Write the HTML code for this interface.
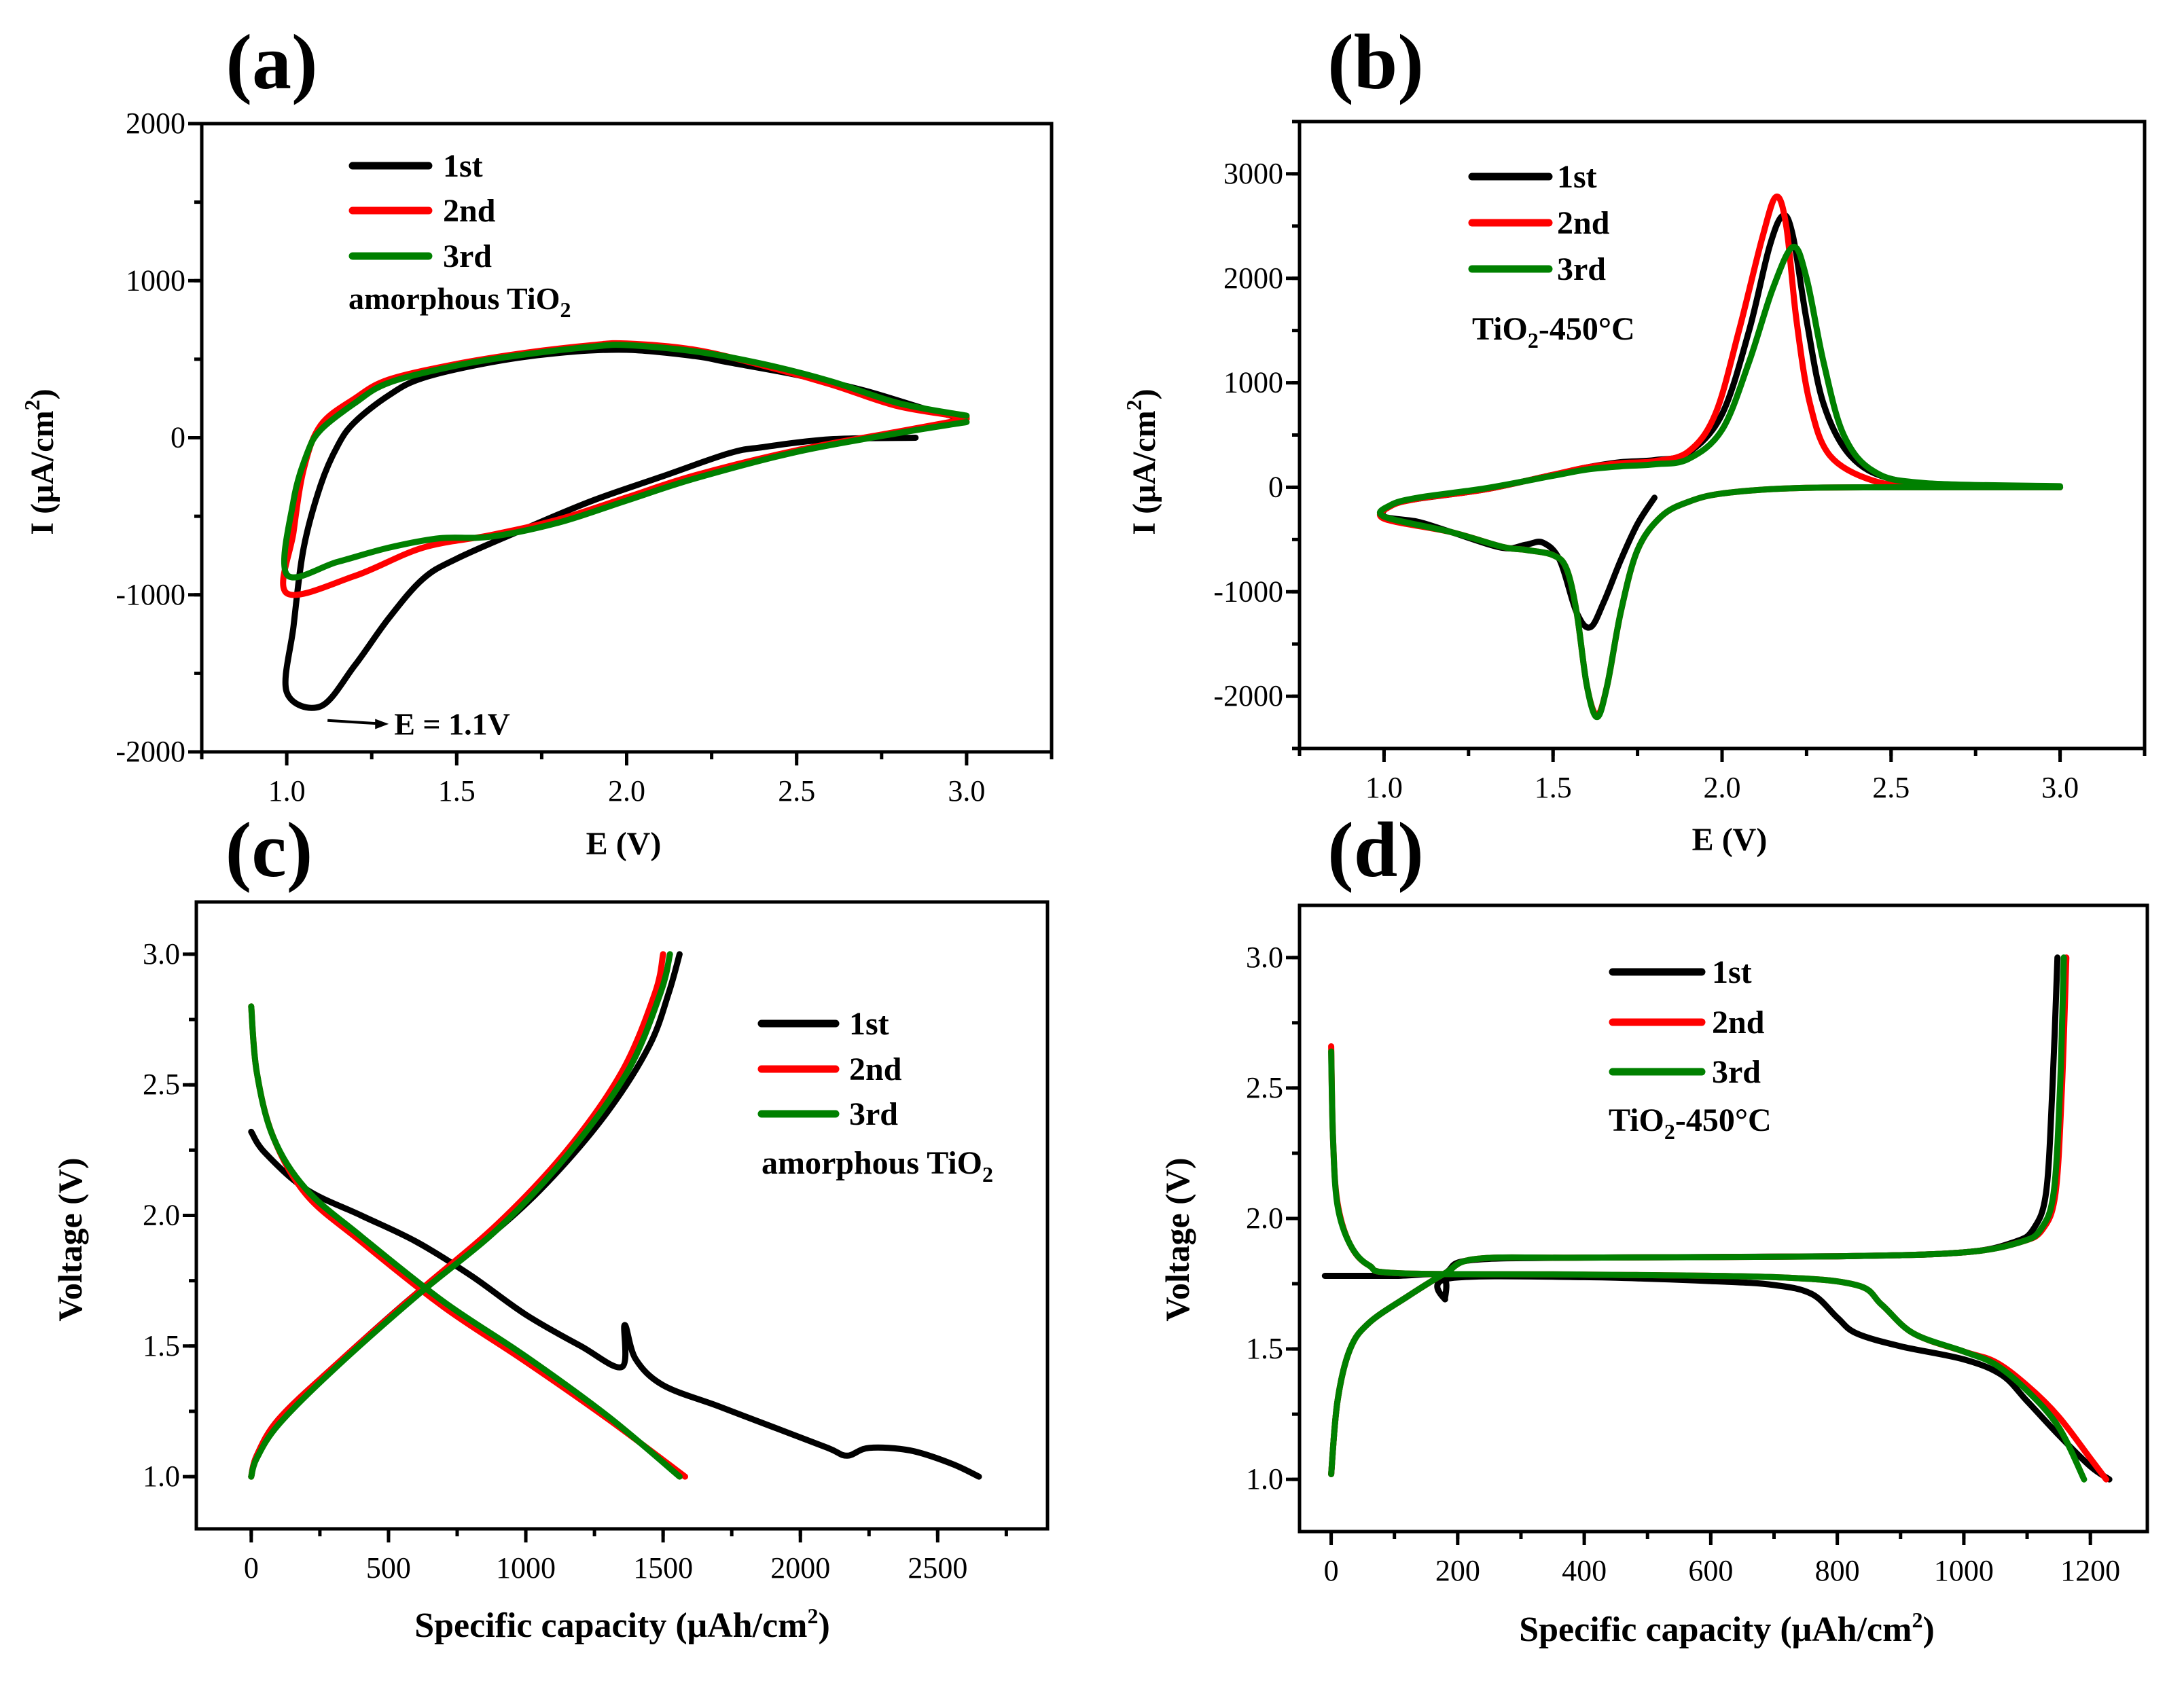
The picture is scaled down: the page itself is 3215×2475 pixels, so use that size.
<!DOCTYPE html>
<html><head><meta charset="utf-8"><style>
html,body{margin:0;padding:0;background:#fff;}
svg{display:block;font-family:"Liberation Serif",serif;}
</style></head><body>
<svg id="fig" width="3215" height="2475" viewBox="0 0 3215 2475" xmlns="http://www.w3.org/2000/svg"></svg>
<script>
// ---- Panel (a) data: CV amorphous TiO2 [E, I]
const aCycleNames=["1st","2nd","3rd"];
const a1=[[2.85,0],[2.6,-10],[2.4,-60],[2.3,-100],[2.1,-250],[1.9,-400],[1.7,-580],[1.5,-770],[1.4,-900],[1.3,-1150],[1.2,-1450],[1.1,-1710],[1.0,-1620],[1.02,-1200],[1.05,-700],[1.1,-300],[1.15,-50],[1.2,100],[1.3,270],[1.4,380],[1.6,480],[1.8,540],[2.0,560],[2.2,520],[2.3,480],[2.5,400],[2.7,300],[2.9,170],[3.0,120]];
const a2=[[3.0,120],[2.8,40],[2.5,-80],[2.2,-240],[2.0,-380],[1.8,-520],[1.6,-620],[1.4,-700],[1.2,-880],[1.0,-990],[1.02,-600],[1.05,-200],[1.1,80],[1.2,250],[1.3,370],[1.5,470],[1.7,540],[1.9,590],[2.0,600],[2.2,560],[2.4,460],[2.6,340],[2.8,200],[3.0,130]];
const a3=[[3.0,100],[2.8,30],[2.5,-90],[2.2,-260],[2.0,-400],[1.8,-540],[1.6,-630],[1.45,-640],[1.3,-700],[1.15,-790],[1.0,-870],[1.02,-400],[1.06,-100],[1.1,50],[1.2,220],[1.3,350],[1.5,460],[1.7,530],[1.9,580],[2.0,590],[2.2,550],[2.4,470],[2.6,360],[2.8,220],[3.0,140]];
const aXTicks=[1.0,1.5,2.0,2.5,3.0];
const aYTicks=[-2000,-1000,0,1000,2000];
// ---- Panel (b) data: CV TiO2-450
const b1=[[1.8,-100],[1.75,-350],[1.7,-700],[1.65,-1100],[1.61,-1340],[1.57,-1200],[1.52,-700],[1.47,-530],[1.42,-550],[1.35,-580],[1.2,-430],[1.1,-330],[1.0,-280],[1.02,-170],[1.1,-110],[1.3,-20],[1.5,120],[1.6,190],[1.7,240],[1.8,260],[1.9,330],[2.0,700],[2.08,1500],[2.14,2300],[2.18,2600],[2.21,2400],[2.25,1600],[2.3,800],[2.38,300],[2.5,80],[2.7,20],[3.0,0]];
const b2=[[3.0,0],[2.5,0],[2.2,-10],[2.0,-60],[1.9,-140],[1.82,-280],[1.75,-600],[1.7,-1200],[1.66,-1900],[1.63,-2180],[1.6,-1900],[1.57,-1200],[1.54,-780],[1.5,-650],[1.42,-600],[1.35,-570],[1.2,-430],[1.0,-300],[1.02,-180],[1.1,-110],[1.3,-20],[1.5,120],[1.6,190],[1.7,230],[1.8,250],[1.9,340],[1.98,700],[2.05,1500],[2.12,2400],[2.16,2780],[2.19,2500],[2.22,1600],[2.26,800],[2.32,300],[2.45,60],[2.6,20],[3.0,0]];
const b3=[[3.0,0],[2.5,0],[2.2,-10],[2.0,-60],[1.9,-140],[1.82,-280],[1.75,-600],[1.7,-1200],[1.66,-1900],[1.63,-2200],[1.6,-1900],[1.57,-1200],[1.54,-780],[1.5,-650],[1.42,-600],[1.35,-570],[1.2,-430],[1.0,-280],[1.02,-170],[1.1,-100],[1.3,-10],[1.5,110],[1.6,170],[1.7,200],[1.8,220],[1.9,270],[2.0,550],[2.08,1200],[2.15,1900],[2.21,2300],[2.25,2000],[2.3,1200],[2.36,500],[2.45,150],[2.6,40],[3.0,10]];
const bXTicks=[1.0,1.5,2.0,2.5,3.0];
const bYTicks=[-2000,-1000,0,1000,2000,3000];
// ---- Panel (c) data: amorphous charge/discharge [capacity, V]
const c1d=[[0,2.32],[50,2.24],[200,2.1],[400,2.0],[600,1.9],[800,1.77],[1000,1.62],[1200,1.5],[1350,1.42],[1360,1.58],[1400,1.45],[1500,1.35],[1700,1.27],[1900,1.19],[2100,1.11],[2170,1.08],[2250,1.11],[2400,1.1],[2550,1.05],[2650,1.0]];
const c1c=[[0,1.0],[20,1.08],[100,1.22],[300,1.42],[600,1.7],[900,1.95],[1100,2.15],[1300,2.4],[1450,2.65],[1520,2.85],[1560,3.0]];
const c2d=[[0,2.8],[20,2.55],[80,2.3],[200,2.08],[400,1.9],[700,1.65],[1000,1.44],[1300,1.22],[1580,1.0]];
const c2c=[[0,1.0],[20,1.08],[100,1.22],[300,1.42],[600,1.7],[900,1.97],[1150,2.25],[1350,2.55],[1470,2.85],[1500,3.0]];
const c3d=[[0,2.8],[20,2.55],[80,2.3],[200,2.1],[400,1.92],[700,1.67],[1000,1.46],[1300,1.23],[1560,1.0]];
const c3c=[[0,1.0],[20,1.07],[100,1.2],[300,1.41],[600,1.69],[900,1.95],[1150,2.23],[1370,2.55],[1490,2.85],[1525,3.0]];
const cXTicks=[0,500,1000,1500,2000,2500];
const cYTicks=[1.0,1.5,2.0,2.5,3.0];
// ---- Panel (d) data: TiO2-450 charge/discharge
const d1d=[[-10,1.78],[100,1.78],[175,1.78],[180,1.69],[185,1.77],[400,1.775],[600,1.76],[700,1.745],[760,1.71],[800,1.62],[830,1.56],[900,1.51],[1000,1.46],[1060,1.4],[1100,1.3],[1150,1.17],[1200,1.05],[1230,1.0]];
const d1c=[[0,1.02],[10,1.3],[30,1.5],[60,1.6],[120,1.7],[180,1.79],[220,1.84],[400,1.85],[800,1.855],[1000,1.87],[1080,1.91],[1110,1.96],[1130,2.1],[1140,2.5],[1148,3.0]];
const d2d=[[0,2.66],[3,2.3],[10,2.06],[30,1.9],[60,1.82],[110,1.79],[400,1.785],[700,1.775],[830,1.745],[870,1.67],[920,1.56],[1000,1.49],[1050,1.45],[1100,1.36],[1150,1.24],[1200,1.08],[1225,1.0]];
const d2c=[[0,1.02],[10,1.3],[30,1.5],[60,1.6],[120,1.7],[180,1.79],[230,1.845],[400,1.85],[800,1.855],[1000,1.87],[1090,1.91],[1125,1.96],[1145,2.1],[1155,2.5],[1162,3.0]];
const d3d=[[0,2.64],[3,2.3],[10,2.05],[30,1.9],[60,1.82],[110,1.79],[400,1.785],[700,1.775],[830,1.745],[870,1.67],[920,1.56],[1000,1.49],[1050,1.44],[1100,1.34],[1150,1.2],[1190,1.0]];
const d3c=[[0,1.02],[10,1.3],[30,1.5],[60,1.6],[120,1.7],[180,1.79],[230,1.845],[400,1.85],[800,1.855],[1000,1.87],[1090,1.91],[1122,1.96],[1142,2.1],[1152,2.5],[1158,3.0]];
const dXTicks=[0,200,400,600,800,1000,1200];
const dYTicks=[1.0,1.5,2.0,2.5,3.0];

const NS="http://www.w3.org/2000/svg";
const svg=document.getElementById('fig');
function mk(tag,attrs,parent){const e=document.createElementNS(NS,tag);for(const k in attrs)e.setAttribute(k,attrs[k]);(parent||svg).appendChild(e);return e;}
const COL={"1st":"#000","2nd":"#ff0000","3rd":"#008000"};
function smooth(pts){let d="M"+pts[0][0].toFixed(1)+","+pts[0][1].toFixed(1);
 for(let i=0;i<pts.length-1;i++){const p0=pts[Math.max(0,i-1)],p1=pts[i],p2=pts[i+1],p3=pts[Math.min(pts.length-1,i+2)];
  const c1=[p1[0]+(p2[0]-p0[0])/6,p1[1]+(p2[1]-p0[1])/6],c2=[p2[0]-(p3[0]-p1[0])/6,p2[1]-(p3[1]-p1[1])/6];
  d+="C"+c1[0].toFixed(1)+","+c1[1].toFixed(1)+" "+c2[0].toFixed(1)+","+c2[1].toFixed(1)+" "+p2[0].toFixed(1)+","+p2[1].toFixed(1);}
 return d;}
function panel(id,box,xr,yr,xt,yt,xminor,yminor,fmtX,fmtY){
 const g=mk('g',{});
 
 
 const sx=v=>box.x0+(v-xr[0])/(xr[1]-xr[0])*(box.x1-box.x0);
 const sy=v=>box.y1-(v-yr[0])/(yr[1]-yr[0])*(box.y1-box.y0);
 const fr=mk('rect',{x:box.x0,y:box.y0,width:box.x1-box.x0,height:box.y1-box.y0,fill:'none',stroke:'#000','stroke-width':5},g);
 
 
 xt.forEach(v=>{const x=sx(v);mk('line',{x1:x,x2:x,y1:box.y1,y2:box.y1+20,stroke:'#000','stroke-width':5},g);
  const t=mk('text',{x:x,y:box.y1+72,'font-size':44,'text-anchor':'middle'},g);t.textContent=fmtX(v);
  
  });
 for(let v=xminor[0];v<=xr[1]+1e-9;v+=xminor[1]){if(v<xr[0])continue;const x=sx(v);mk('line',{x1:x,x2:x,y1:box.y1,y2:box.y1+11,stroke:'#000','stroke-width':5},g);}
 yt.forEach(v=>{const y=sy(v);mk('line',{x1:box.x0,x2:box.x0-20,y1:y,y2:y,stroke:'#000','stroke-width':5},g);
  const t=mk('text',{x:box.x0-24,y:y+14,'font-size':44,'text-anchor':'end'},g);t.textContent=fmtY(v);
  
  });
 for(let v=yminor[0];v<=yr[1]+1e-9;v+=yminor[1]){if(v<yr[0]-1e-9)continue;const y=sy(v);mk('line',{x1:box.x0,x2:box.x0-11,y1:y,y2:y,stroke:'#000','stroke-width':5},g);}
 return {g,sx,sy};
}
function series(P,data,name,id){const p=mk('path',{d:smooth(data.map(d=>[P.sx(d[0]),P.sy(d[1])])),fill:'none',stroke:COL[name],'stroke-width':9,'stroke-linejoin':'round','stroke-linecap':'round'},P.g);
 
 }
function legend(P,x0,x1,ys,tx){aCycleNames.forEach((n,i)=>{mk('line',{x1:x0,x2:x1,y1:ys[i],y2:ys[i],stroke:COL[n],'stroke-width':11,'stroke-linecap':'round'},P.g);
 const t=mk('text',{x:tx,y:ys[i]+16,'font-size':48,'font-weight':'bold'},P.g);t.textContent=n;
 
 });}
function txt(s,x,y,size,attrs){const t=mk('text',Object.assign({x:x,y:y,'font-size':size,'font-weight':'bold'},attrs||{}));t.innerHTML=s;return t;}
const f1=v=>v.toFixed(1), f0=v=>String(v);

// Panel a
const A=panel('a',{x0:297,x1:1548,y0:182,y1:1107},[0.75,3.25],[-2000,2000],aXTicks,aYTicks,[0.75,0.25],[-2000,500],f1,f0);
series(A,a1,"1st","cv-a-1st");series(A,a2,"2nd","cv-a-2nd");series(A,a3,"3rd","cv-a-3rd");
legend(A,519,631,[244,310,377],652);
let t;
t=txt('amorphous TiO<tspan font-size="32" dy="12">2</tspan>',513,455,46);
mk('line',{x1:A.sx(1.12),y1:A.sy(-1800),x2:A.sx(1.27),y2:A.sy(-1820),stroke:'#000','stroke-width':4});
mk('polygon',{points:`${A.sx(1.3)},${A.sy(-1822)} ${A.sx(1.26)},${A.sy(-1790)} ${A.sx(1.26)},${A.sy(-1855)}`,fill:'#000'});
t=txt('E = 1.1V',A.sx(1.3)+8,A.sy(-1820)+16,46);

// Panel b
const B=panel('b',{x0:1913,x1:3157,y0:179,y1:1102},[0.75,3.25],[-2500,3500],bXTicks,bYTicks,[0.75,0.25],[-2500,500],f1,f0);
series(B,b1,"1st","cv-b-1st");series(B,b2,"2nd","cv-b-2nd");series(B,b3,"3rd","cv-b-3rd");
legend(B,2167,2280,[260,328,396],2292);
t=txt('TiO<tspan font-size="32" dy="12">2</tspan><tspan dy="-12">-450°C</tspan>',2167,500,48);

// Panel c
const C=panel('c',{x0:289,x1:1542,y0:1328,y1:2251},[-200,2900],[0.8,3.2],cXTicks,cYTicks,[-250,250],[0.75,0.25],f0,f1);
series(C,c1d,"1st","gcd-c-1st-discharge");series(C,c1c,"1st","gcd-c-1st-charge");
series(C,c2d,"2nd","gcd-c-2nd-discharge");series(C,c2c,"2nd","gcd-c-2nd-charge");
series(C,c3d,"3rd","gcd-c-3rd-discharge");series(C,c3c,"3rd","gcd-c-3rd-charge");
legend(C,1121,1230,[1507,1574,1640],1250);
t=txt('amorphous TiO<tspan font-size="32" dy="12">2</tspan>',1121,1728,48);

// Panel d
const D=panel('d',{x0:1913,x1:3161,y0:1333,y1:2255},[-50,1290],[0.8,3.2],dXTicks,dYTicks,[0,100],[0.75,0.25],f0,f1);
series(D,d1d,"1st","gcd-d-1st-discharge");series(D,d1c,"1st","gcd-d-1st-charge");
series(D,d2d,"2nd","gcd-d-2nd-discharge");series(D,d2c,"2nd","gcd-d-2nd-charge");
series(D,d3d,"3rd","gcd-d-3rd-discharge");series(D,d3c,"3rd","gcd-d-3rd-charge");
legend(D,2374,2505,[1431,1505,1578],2520);
t=txt('TiO<tspan font-size="32" dy="12">2</tspan><tspan dy="-12">-450°C</tspan>',2368,1665,48);

// Axis titles
t=txt('E (V)',918,1258,48,{'text-anchor':'middle'});
t=txt('E (V)',2546,1252,48,{'text-anchor':'middle'});
t=txt('Specific capacity (μAh/cm<tspan font-size="32" dy="-20">2</tspan><tspan dy="20">)</tspan>',916,2410,52,{'text-anchor':'middle'});
t=txt('Specific capacity (μAh/cm<tspan font-size="32" dy="-20">2</tspan><tspan dy="20">)</tspan>',2542,2416,52,{'text-anchor':'middle'});
t=txt('I (μA/cm<tspan font-size="32" dy="-20">2</tspan><tspan dy="20">)</tspan>',0,0,48,{'text-anchor':'middle',transform:'translate(78,680) rotate(-90)'});
t=txt('I (μA/cm<tspan font-size="32" dy="-20">2</tspan><tspan dy="20">)</tspan>',0,0,48,{'text-anchor':'middle',transform:'translate(1700,680) rotate(-90)'});
t=txt('Voltage (V)',0,0,50,{'text-anchor':'middle',transform:'translate(120,1825) rotate(-90)'});
t=txt('Voltage (V)',0,0,50,{'text-anchor':'middle',transform:'translate(1750,1825) rotate(-90)'});

// Panel letters
[['(a)',400,130],['(b)',2025,130],['(c)',396,1290],['(d)',2025,1290]].forEach(p=>{const e=txt(p[0],p[1],p[2],116,{'text-anchor':'middle'});
 
 });
</script>
</body></html>
